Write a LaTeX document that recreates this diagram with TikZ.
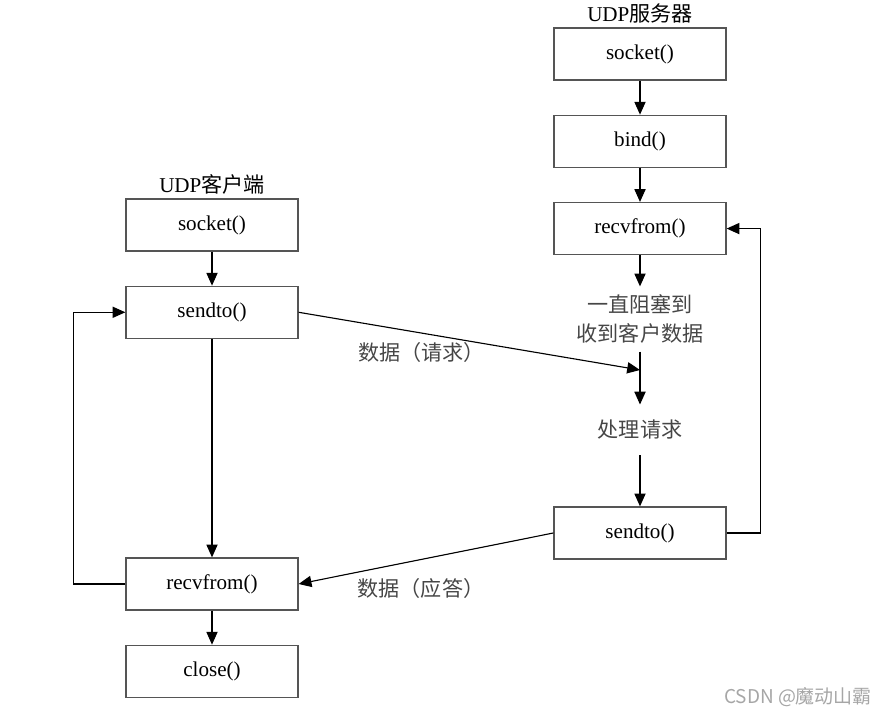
\documentclass[tikz,border=0pt]{standalone}
\usepackage{fontspec}
\setmainfont{Liberation Serif}
\newfontfamily\cjk{Noto Sans CJK SC}
\usetikzlibrary{arrows.meta, positioning}
\definecolor{boxgray}{RGB}{85,85,85}
\definecolor{notegray}{RGB}{70,70,70}

\begin{document}
\begin{tikzpicture}[
  x=0.025cm, y=-0.025cm,
  node distance=0.85cm,
  every node/.style={font=\fontsize{15}{20}\selectfont},
  call/.style={
    draw=boxgray, line width=0.9pt,
    minimum width=4.3cm, minimum height=1.3cm, inner sep=0pt
  },
  head/.style={inner sep=1pt},
  note/.style={
    text=notegray, align=center, inner xsep=2pt, inner ysep=6pt,
    font=\cjk\fontsize{15}{20}\selectfont
  },
  msg/.style={text=notegray, inner sep=1pt, font=\cjk\fontsize{15}{20}\selectfont},
  arrow/.style={-{Triangle[length=3.2mm, width=2.8mm]}, line width=0.8pt},
  line/.style={line width=0.8pt}
]

  \useasboundingbox (0,0) rectangle (889,715);

  % UDP server (right column)
  \node[call] (ssock) at (640,54) {socket()};
  \node[head, above=2pt of ssock] (stitle) {UDP{\cjk 服务器}};
  \node[call, below=of ssock] (sbind) {bind()};
  \node[call, below=of sbind] (srecv) {recvfrom()};
  \node[note] (block) at (640,319) {一直阻塞到\\收到客户数据};
  \node[note, inner ysep=11pt] (work) at (640,430) {处理请求};
  \node[call] (ssend) at (640,533) {sendto()};
  \coordinate (hit) at (640,370);

  % UDP client (left column)
  \node[call] (csock) at (212,225) {socket()};
  \node[head, above=2pt of csock] (ctitle) {UDP{\cjk 客户端}};
  \node[call, below=of csock] (csend) {sendto()};
  \node[call] (crecv) at (212,584) {recvfrom()};
  \node[call, below=of crecv] (cclose) {close()};

  % Server flow
  \draw[arrow] (ssock) -- (sbind);
  \draw[arrow] (sbind) -- (srecv);
  \draw[arrow] (srecv) -- (block);
  \draw[line] (block) -- (hit);
  \draw[arrow] (hit) -- (work);
  \draw[arrow] (work) -- (ssend);
  \draw[arrow] (ssend.east) -- ++(34,0) |- (srecv.east);

  % Client flow
  \draw[arrow] (csock) -- (csend);
  \draw[arrow] (csend) -- (crecv);
  \draw[arrow] (crecv) -- (cclose);
  \draw[arrow] (crecv.west) -- ++(-52,0) |- (csend.west);

  % Datagrams
  \draw[arrow] (csend.east) -- (hit)
    node[msg, pos=0.36, below=5pt] {数据（请求）};
  \draw[arrow] (ssend.west) -- (crecv.east)
    node[msg, pos=0.52, below=12pt] {数据（应答）};

  \node[text=gray!70, font=\cjk\fontsize{13.5}{16}\selectfont] (mark) at (798,697) {CSDN @魔动山霸};

\end{tikzpicture}
\end{document}
